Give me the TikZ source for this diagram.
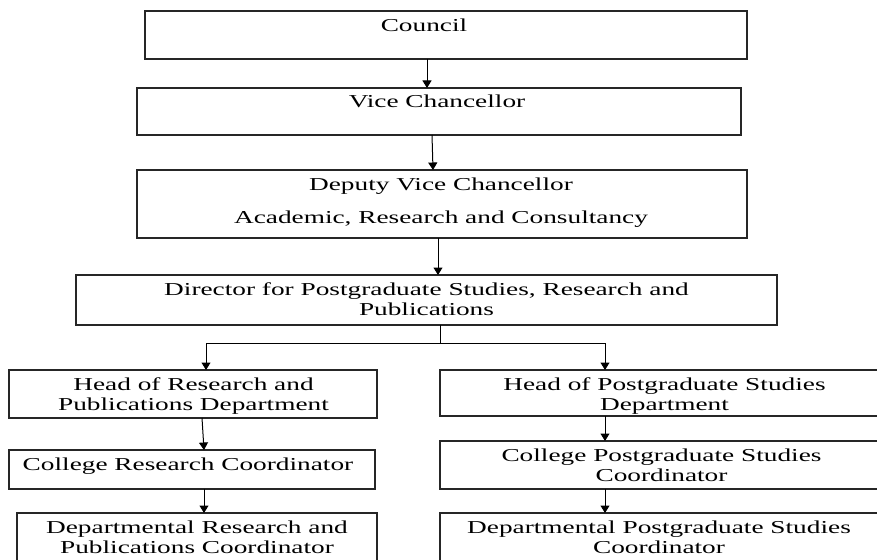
\documentclass[tikz,border=0pt]{standalone}
\usepackage{fontspec}
\setmainfont{Liberation Serif}[FakeStretch=1.5]
\usetikzlibrary{arrows.meta}
\newcommand\mystrut{\rule{0pt}{14pt}}
\begin{document}
\begin{tikzpicture}[x=1pt,y=-1pt,
  box/.style={draw=black!85, line width=1.6pt, rectangle, inner sep=0pt, outer sep=0pt, anchor=north west},
  txt/.style={anchor=north, inner sep=0pt, align=center, font=\fontsize{18.2}{20}\selectfont},
  arr/.style={line width=1pt, -{Triangle[length=7.5pt,width=9pt]}},
  ln/.style={line width=1pt}]
\useasboundingbox (0,0) rectangle (877,559);

% boxes
\node[box, minimum width=602pt, minimum height=48pt] (council) at (145,11) {};
\node[box, minimum width=604pt, minimum height=47pt] (vc) at (137,88) {};
\node[box, minimum width=610pt, minimum height=68pt] (dvc) at (137,170) {};
\node[box, minimum width=701pt, minimum height=50pt] (dir) at (76,275) {};
\node[box, minimum width=368pt, minimum height=48pt] (headL) at (9,370) {};
\node[box, minimum width=440pt, minimum height=46pt] (headR) at (440,370) {};
\node[box, minimum width=366pt, minimum height=39pt] (collL) at (9,450) {};
\node[box, minimum width=440pt, minimum height=48pt] (collR) at (440,441) {};
\node[box, minimum width=360pt, minimum height=60pt] (deptL) at (17,513) {};
\node[box, minimum width=440pt, minimum height=60pt] (deptR) at (440,513) {};

% texts
\node[txt] (tcouncil) at (424,17) {\mystrut Council};
\node[txt] (tvc) at (437,93) {\mystrut Vice Chancellor};
\node[txt] (tdvc) at (441,176) {\mystrut Deputy Vice Chancellor\\[13pt] Academic, Research and Consultancy};
\node[txt] (tdir) at (426.5,281) {\mystrut Director for Postgraduate Studies, Research and\\ Publications};
\node[txt] (theadL) at (193.5,376) {\mystrut Head of Research and\\ Publications Department};
\node[txt] (theadR) at (664.5,376) {\mystrut Head of Postgraduate Studies\\ Department};
\node[txt] (tcollL) at (188,456) {\mystrut College Research Coordinator};
\node[txt] (tcollR) at (661.5,447) {\mystrut College Postgraduate Studies\\ Coordinator};
\node[txt] (tdeptL) at (197,519) {\mystrut Departmental Research and\\ Publications Coordinator};
\node[txt] (tdeptR) at (659,519) {\mystrut Departmental Postgraduate Studies\\ Coordinator};

% connectors
\draw[arr] ([xshift=-19pt]council.south) -- ([xshift=-12pt]vc.north);
\draw[arr] ([xshift=-7pt]vc.south) -- ([xshift=-9pt]dvc.north);
\draw[arr] ([xshift=-4pt]dvc.south) -- ([xshift=11.5pt]dir.north);
\draw[ln] ([xshift=13.5pt]dir.south) -- ++(0,18) coordinate (split);
\draw[arr] (split) -| ([xshift=13pt]headL.north);
\draw[arr] (split) -| ([xshift=-55pt]headR.north);
\draw[arr] ([xshift=9pt]headL.south) -- ([xshift=12pt]collL.north);
\draw[arr] ([xshift=12pt]collL.south) -- ([xshift=7pt]deptL.north);
\draw[arr] ([xshift=-55pt]headR.south) -- ([xshift=-55pt]collR.north);
\draw[arr] ([xshift=-55pt]collR.south) -- ([xshift=-55pt]deptR.north);
\end{tikzpicture}
\end{document}
